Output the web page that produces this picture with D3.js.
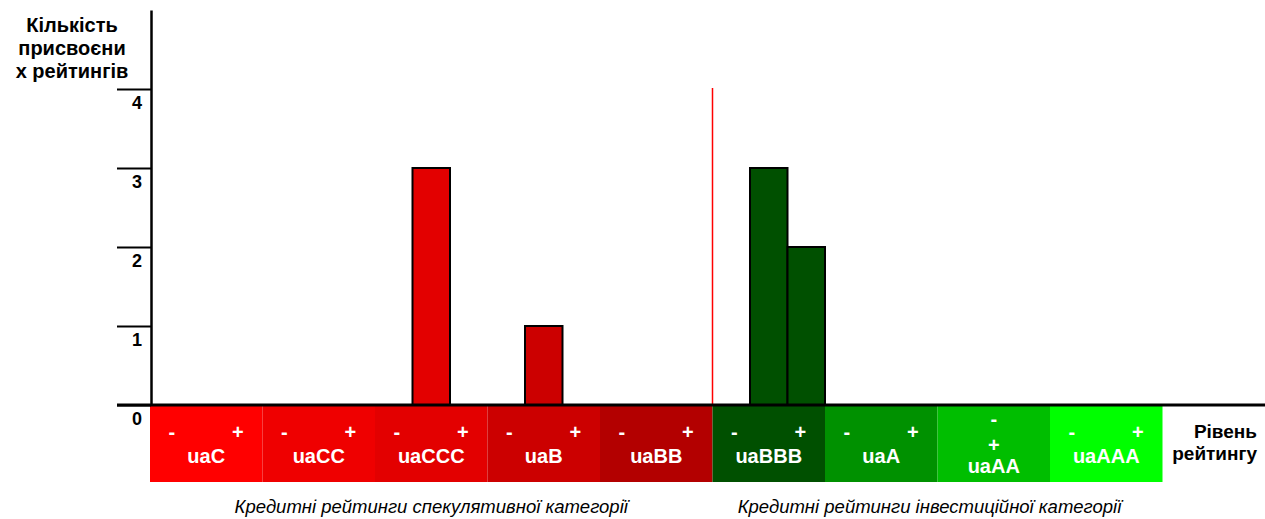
<!DOCTYPE html>
<html>
<head>
<meta charset="utf-8">
<script src="https://cdn.jsdelivr.net/npm/d3@7/dist/d3.min.js"></script>
<style>
    body { margin: 0; background: #fff; }
    text { font-family: Arial, "Liberation Sans", sans-serif; }
</style>
</head>
<body>
<svg id="chart" width="1265" height="519"></svg>
<script>
// rating groups, each split into "-", plain, "+"
const groups = ['uaC', 'uaCC', 'uaCCC', 'uaB', 'uaBB', 'uaBBB', 'uaA', 'uaAA', 'uaAAA'];
const groupColors = ['#ff0000', '#ef0000', '#e30000', '#cc0000', '#b30000', '#005000', '#009100', '#00be00', '#00ff00'];
const grades = ['-', '', '+'];
// number of ratings per sub-grade (27 values)
const counts = [0, 0, 0,  0, 0, 0,  0, 3, 0,  0, 1, 0,  0, 0, 0,  0, 3, 2,  0, 0, 0,  0, 0, 0,  0, 0, 0];
const yTicks = [0, 1, 2, 3, 4];
const yTitle = ['Кількість', 'присвоєни', 'х рейтингів'];
const xTitle = ['Рівень', 'рейтингу'];
const notes = ['Кредитні рейтинги спекулятивної категорії', 'Кредитні рейтинги інвестиційної категорії'];
const firstInvestment = 'uaBBB';
const stackedGroups = ['uaAA'];

const svg = d3.select('#chart');
const W = 1265;

const slots = [];
groups.forEach(function(g) {
    grades.forEach(function(s) { slots.push(g + s); });
});
const data = slots.map(function(s, i) {
    return {slot: s, group: groups[Math.floor(i / 3)], count: counts[i]};
});

const x = d3.scaleBand().domain(slots).range([150, 1162.5]).padding(0);
const y = d3.scaleLinear().domain([0, 5]).range([405, 10]);
const bw = x.bandwidth();
const color = d3.scaleOrdinal().domain(groups).range(groupColors);

// coloured rating band under the axis
const band = svg.append('g');
band.selectAll('rect')
    .data(groups)
    .enter()
    .append('rect')
    .attr('x', function(d) { return x(d + '-'); })
    .attr('y', y(0))
    .attr('width', bw * 3)
    .attr('height', 77)
    .attr('fill', function(d) { return color(d); });

const bandText = band.selectAll('.lbl')
    .data(groups)
    .enter()
    .append('g')
    .attr('class', 'lbl')
    .attr('fill', '#fff')
    .attr('font-weight', 'bold')
    .attr('text-anchor', 'middle');
bandText.each(function(d) {
    const g = d3.select(this);
    const cx = x(d) + bw / 2;
    if (stackedGroups.indexOf(d) >= 0) {
        g.append('text').attr('x', cx).attr('y', y(0) + 21).attr('font-size', 20).text('-');
        g.append('text').attr('x', cx).attr('y', y(0) + 47).attr('font-size', 20).text('+');
        g.append('text').attr('x', cx).attr('y', y(0) + 68).attr('font-size', 20).text(d);
    } else {
        g.append('text').attr('x', x(d + '-') + bw / 2 + 3).attr('y', y(0) + 34).attr('font-size', 20).text('-');
        g.append('text').attr('x', x(d + '+') + bw / 2 - 6).attr('y', y(0) + 34).attr('font-size', 20).text('+');
        g.append('text').attr('x', cx).attr('y', y(0) + 58).attr('font-size', 20).text(d);
    }
});

// bars
svg.append('g')
    .selectAll('rect')
    .data(data.filter(function(d) { return d.count > 0; }))
    .enter()
    .append('rect')
    .attr('x', function(d) { return x(d.slot); })
    .attr('y', function(d) { return y(d.count); })
    .attr('width', bw)
    .attr('height', function(d) { return y(0) - y(d.count); })
    .attr('fill', function(d) { return color(d.group); })
    .attr('stroke', '#000')
    .attr('stroke-width', 2);

// divider between speculative and investment grade
svg.append('line')
    .attr('x1', x(firstInvestment + '-')).attr('x2', x(firstInvestment + '-'))
    .attr('y1', y(0)).attr('y2', y(4) - 1)
    .attr('stroke', '#ff0000')
    .attr('stroke-width', 1.5);

// y axis
const yAxis = d3.axisLeft(y).tickValues(yTicks).tickSize(34).tickSizeOuter(0).tickFormat(d3.format('d'));
const gy = svg.append('g').attr('transform', 'translate(' + (x.range()[0] + 1) + ',0)').call(yAxis);
gy.select('.domain').attr('stroke', '#000').attr('stroke-width', 2.5);
gy.selectAll('.tick line').attr('stroke', '#000').attr('stroke-width', 2);
gy.selectAll('.tick text')
    .attr('x', -9)
    .attr('dy', 0)
    .attr('y', 19)
    .attr('fill', '#000')
    .attr('font-size', 18)
    .attr('font-weight', 'bold')
    .attr('font-family', 'Arial, "Liberation Sans", sans-serif');

// x axis line
svg.append('line')
    .attr('x1', x.range()[0] - 33).attr('x2', W)
    .attr('y1', y(0)).attr('y2', y(0))
    .attr('stroke', '#000')
    .attr('stroke-width', 3);

// axis titles
svg.append('text')
    .attr('text-anchor', 'middle')
    .attr('font-weight', 'bold')
    .attr('font-size', 20)
    .selectAll('tspan')
    .data(yTitle)
    .enter()
    .append('tspan')
    .attr('x', 72)
    .attr('y', function(d, i) { return 32 + i * 23; })
    .text(function(d) { return d; });

svg.append('text')
    .attr('text-anchor', 'end')
    .attr('font-weight', 'bold')
    .attr('font-size', 19)
    .selectAll('tspan')
    .data(xTitle)
    .enter()
    .append('tspan')
    .attr('x', 1257)
    .attr('y', function(d, i) { return y(0) + 33 + i * 22; })
    .text(function(d) { return d; });

// category notes
const noteX = [
    (x.range()[0] + x(firstInvestment + '-')) / 2,
    (x(firstInvestment + '-') + x.range()[1]) / 2 - 8
];
svg.selectAll('.note')
    .data(notes)
    .enter()
    .append('text')
    .attr('class', 'note')
    .attr('x', function(d, i) { return noteX[i]; })
    .attr('y', 513)
    .attr('text-anchor', 'middle')
    .attr('font-style', 'italic')
    .attr('font-size', 18.5)
    .text(function(d) { return d; });
</script>
</body>
</html>
